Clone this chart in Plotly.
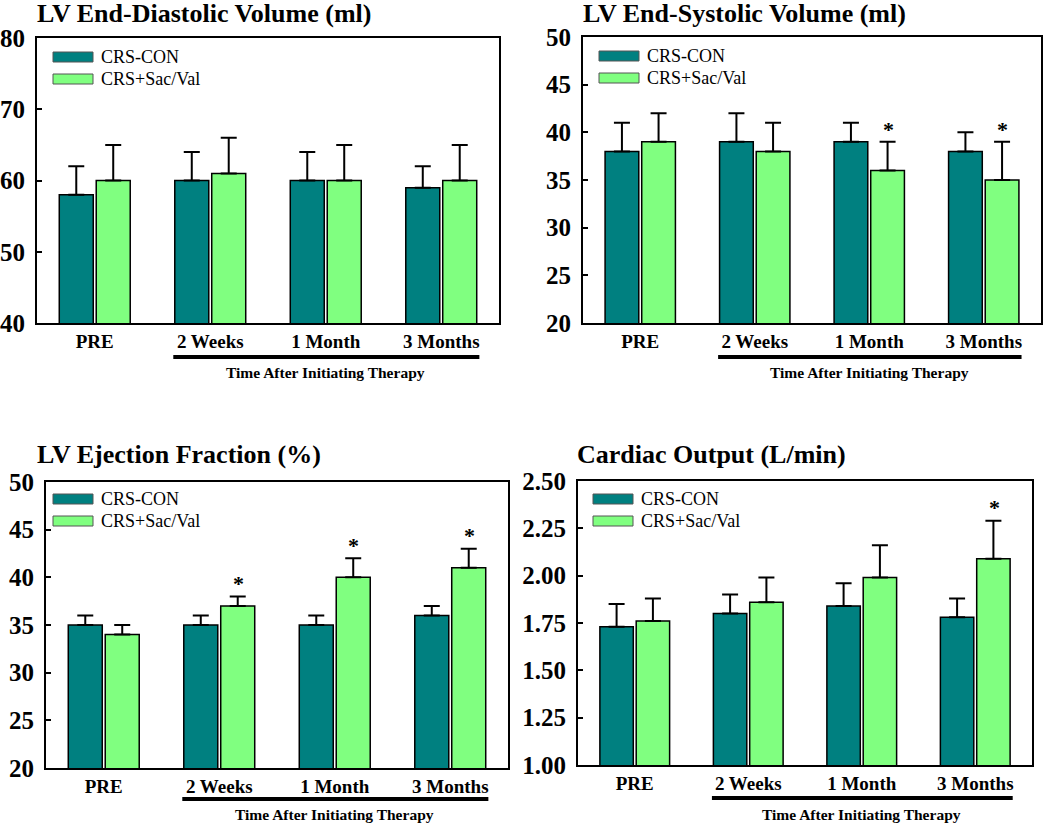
import plotly.graph_objects as go

categories = ["PRE", "2 Weeks", "1 Month", "3 Months"]
series_names = ["CRS-CON", "CRS+Sac/Val"]

edv_con = [58, 60, 60, 59]
edv_con_err = [4, 4, 4, 3]
edv_sac = [60, 61, 60, 60]
edv_sac_err = [5, 5, 5, 5]
edv_sig = [False, False, False, False]

esv_con = [38, 39, 39, 38]
esv_con_err = [3, 3, 2, 2]
esv_sac = [39, 38, 36, 35]
esv_sac_err = [3, 3, 3, 4]
esv_sig = [False, False, True, True]

ef_con = [35, 35, 35, 36]
ef_con_err = [1, 1, 1, 1]
ef_sac = [34, 37, 40, 41]
ef_sac_err = [1, 1, 2, 2]
ef_sig = [False, True, True, True]

co_con = [1.73, 1.80, 1.84, 1.78]
co_con_err = [0.12, 0.10, 0.12, 0.10]
co_sac = [1.76, 1.86, 1.99, 2.09]
co_sac_err = [0.12, 0.13, 0.17, 0.20]
co_sig = [False, False, False, True]

titles = ["LV End-Diastolic Volume (ml)", "LV End-Systolic Volume (ml)",
          "LV Ejection Fraction (%)", "Cardiac Output (L/min)"]
y_ranges = [[40, 80], [20, 50], [20, 50], [1.0, 2.5]]
y_dtick = [10, 5, 5, 0.25]
y_fmt = ["d", "d", "d", ".2f"]
axis_label = "Time After Initiating Therapy"

W, H = 1050, 824
# panel boxes in pixels: x0, x1, y0(top), y1(bottom)
boxes = [(37, 499, 38, 323), (583, 1041, 37, 323),
         (46, 508, 482, 768), (578, 1032, 481, 765)]
title_pos = [(37, 14), (583, 14), (37, 454), (577, 454)]
# legend swatch left x, first row center y
legend_pos = [(53, 57), (599, 56), (53, 499), (593, 499)]
# underline / caption offsets below each box
under_off = [(34, 49), (34, 49), (31, 46), (33, 49)]

panels = [
    (edv_con, edv_con_err, edv_sac, edv_sac_err, edv_sig),
    (esv_con, esv_con_err, esv_sac, esv_sac_err, esv_sig),
    (ef_con, ef_con_err, ef_sac, ef_sac_err, ef_sig),
    (co_con, co_con_err, co_sac, co_sac_err, co_sig),
]

CON_COLOR = "#008080"
SAC_COLOR = "#80FF80"
colors = [CON_COLOR, SAC_COLOR]
FONT = "Liberation Serif"

fig = go.Figure()
layout = dict(
    width=W, height=H,
    margin=dict(l=0, r=0, t=0, b=0, pad=0, autoexpand=False),
    paper_bgcolor="white", plot_bgcolor="white",
    barmode="group", bargap=0.36, bargroupgap=0.08,
    font=dict(family=FONT, color="black"),
    showlegend=False,
)
annotations = []
shapes = []

for i, (con, con_err, sac, sac_err, sig) in enumerate(panels):
    n = i + 1
    xa = "x" if n == 1 else f"x{n}"
    ya = "y" if n == 1 else f"y{n}"
    x0, x1, y0, y1 = boxes[i]
    for name, vals, errs, col in [(series_names[0], con, con_err, CON_COLOR),
                                  (series_names[1], sac, sac_err, SAC_COLOR)]:
        fig.add_trace(go.Bar(
            x=categories, y=vals, name=name, xaxis=xa, yaxis=ya,
            offsetgroup=name,
            marker=dict(color=col, line=dict(color="black", width=1.5)),
            error_y=dict(type="data", symmetric=False, array=errs,
                         arrayminus=[0] * len(errs), color="black",
                         thickness=2, width=8),
        ))
    layout[f"xaxis{'' if n == 1 else n}"] = dict(
        domain=[x0 / W, x1 / W], anchor=ya, type="category",
        range=[-0.5, 3.5], showline=True, mirror=True, linecolor="black",
        linewidth=2, ticks="", showgrid=False, zeroline=False,
        automargin=False, ticklabelstandoff=0,
        tickfont=dict(family=FONT, size=19, color="black", weight="bold"),
    )
    layout[f"yaxis{'' if n == 1 else n}"] = dict(
        domain=[1 - y1 / H, 1 - y0 / H], anchor=xa,
        range=y_ranges[i], dtick=y_dtick[i], tick0=y_ranges[i][0],
        tickformat=y_fmt[i], showline=True, mirror=True, linecolor="black",
        linewidth=2, ticks="inside", ticklen=5, tickwidth=2, tickcolor="black",
        showgrid=False, zeroline=False, ticklabelstandoff=5, automargin=False,
        tickfont=dict(family=FONT, size=25, color="black", weight="bold"),
    )
    # legend (swatch + label)
    lx, ly = legend_pos[i]
    for k, nm in enumerate(series_names):
        cy = ly + 22 * k
        shapes.append(dict(
            type="rect", xref="paper", yref="paper",
            x0=lx / W, x1=(lx + 40) / W,
            y0=1 - (cy + 5) / H, y1=1 - (cy - 5) / H,
            fillcolor=colors[k], line=dict(color="#555555", width=1),
        ))
        annotations.append(dict(
            text=nm, xref="paper", yref="paper", x=(lx + 46) / W,
            y=1 - cy / H, xanchor="left", yanchor="middle", showarrow=False,
            font=dict(family=FONT, size=18, color="black"),
        ))
    tx, ty = title_pos[i]
    annotations.append(dict(
        text=titles[i], xref="paper", yref="paper", x=(tx - 2) / W, y=1 - ty / H,
        xanchor="left", yanchor="middle", showarrow=False,
        font=dict(family=FONT, size=26, color="black", weight="bold"),
    ))
    # significance stars
    dy = (y_ranges[i][1] - y_ranges[i][0]) * 0.045
    for k, s in enumerate(sig):
        if s:
            annotations.append(dict(
                text="*", xref=xa, yref=ya, x=categories[k], xshift=19,
                y=sac[k] + sac_err[k] + dy, showarrow=False,
                yanchor="middle",
                font=dict(family=FONT, size=22, color="black", weight="bold"),
            ))
    # underline for the post-therapy time points
    uo, co = under_off[i]
    shapes.append(dict(
        type="line", xref=xa, yref="paper", x0=0.68, x1=3.33,
        y0=1 - (y1 + uo) / H, y1=1 - (y1 + uo) / H,
        line=dict(color="black", width=4),
    ))
    annotations.append(dict(
        text=axis_label, xref=xa, yref="paper", x=2.0,
        y=1 - (y1 + co) / H, yanchor="middle", showarrow=False,
        font=dict(family=FONT, size=15.5, color="black", weight="bold"),
    ))

layout["annotations"] = annotations
layout["shapes"] = shapes
fig.update_layout(**layout)
fig.write_html(
    "out.html",
    config={"displayModeBar": False},
    post_script="document.body.style.margin='0';document.body.style.padding='0';",
)
